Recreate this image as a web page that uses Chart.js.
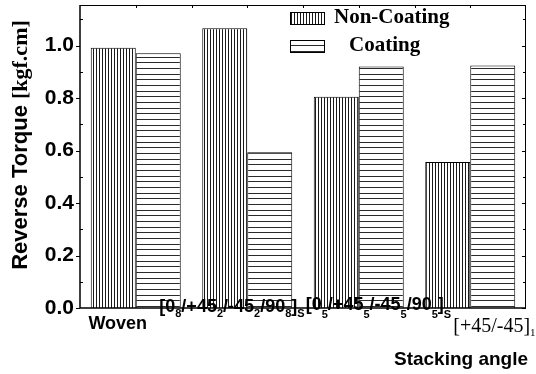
<!DOCTYPE html>
<html><head><meta charset="utf-8">
<script src="https://cdn.jsdelivr.net/npm/chart.js@4.4.1/dist/chart.umd.min.js"></script>
<style>html,body{margin:0;padding:0;background:#fff;}#wrap{width:536px;height:374px;}</style>
</head><body><div id="wrap"><canvas id="c" width="536" height="374"></canvas></div>
<script>
// ---- data ----
const categories = ['Woven', '[0_8/+45_2/-45_2/90_8]_S', '[0_5/+45_5/-45_5/90_5]_S', '[+45/-45]_15'];
const seriesNames = ['Non-Coating', 'Coating'];
const nonCoating = [0.992, 1.066, 0.805, 0.557];
const coating = [0.971, 0.594, 0.921, 0.924];
const yMajorTicks = [0.0, 0.2, 0.4, 0.6, 0.8, 1.0];
const yMinorTicks = [0.1, 0.3, 0.5, 0.7, 0.9, 1.1];
const yMax = 1.155;
const xTitle = 'Stacking angle';
const yTitleParts = ['Reverse Torque ', '[kgf.cm]'];

// ---- styles ----
const SANS = 'Liberation Sans, Arial, sans-serif';
const SERIF = 'Liberation Serif, Times New Roman, serif';
const labelStyles = [
  {dx: -18, y: 329, align: 'center', font: 'bold 18px ' + SANS, sub: 'bold 11px ' + SANS, sdy: 5},
  {dx: -88, y: 312, align: 'left', font: 'bold 18px ' + SANS, sub: 'bold 11px ' + SANS, sdy: 5},
  {dx: -53, y: 310, align: 'left', font: 'bold 18px ' + SANS, sub: 'bold 11px ' + SANS, sdy: 8},
  {dx: -17, y: 332, align: 'left', font: '20px ' + SERIF, sub: '11px ' + SERIF, sdy: 4}
];

function makePattern(vertical) {
  const pc = document.createElement('canvas');
  const ctx = pc.getContext('2d');
  if (vertical) {
    pc.width = 3; pc.height = 4;
    ctx.fillStyle = '#fff'; ctx.fillRect(0, 0, 3, 4);
    ctx.fillStyle = '#1a1a1a'; ctx.fillRect(0, 0, 1, 4);
  } else {
    pc.width = 4; pc.height = 17;
    ctx.fillStyle = '#fff'; ctx.fillRect(0, 0, 4, 17);
    ctx.fillStyle = '#2a2a2a';
    [0, 6, 11].forEach(y => ctx.fillRect(0, y, 4, 1));
  }
  return document.getElementById('c').getContext('2d').createPattern(pc, 'repeat');
}
const patV = makePattern(true);
const patH = makePattern(false);

function parseLabel(s) {
  const segs = [];
  const re = /_([0-9A-Za-z]+)/g;
  let last = 0, m;
  while ((m = re.exec(s))) {
    if (m.index > last) segs.push({t: s.slice(last, m.index), sub: false});
    segs.push({t: m[1], sub: true});
    last = re.lastIndex;
  }
  if (last < s.length) segs.push({t: s.slice(last), sub: false});
  return segs;
}

const deco = {
  id: 'deco',
  afterDraw(chart) {
    const ctx = chart.ctx;
    const a = chart.chartArea;
    const xs = chart.scales.x, ys = chart.scales.y;
    ctx.save();
    // frame
    ctx.strokeStyle = '#000';
    ctx.lineWidth = 1;
    ctx.beginPath();
    ctx.moveTo(a.left, a.top + 0.5); ctx.lineTo(a.right, a.top + 0.5);
    ctx.moveTo(a.right - 0.5, a.top); ctx.lineTo(a.right - 0.5, a.bottom);
    ctx.stroke();
    ctx.lineWidth = 1.5;
    ctx.beginPath();
    ctx.moveTo(a.left, a.top); ctx.lineTo(a.left, a.bottom);
    ctx.lineTo(a.right, a.bottom);
    ctx.stroke();
    // ticks
    ctx.lineWidth = 1;
    ctx.beginPath();
    yMajorTicks.forEach(v => {
      const y = Math.round(ys.getPixelForValue(v)) + 0.5;
      ctx.moveTo(a.left - 4, y); ctx.lineTo(a.left, y);
      ctx.moveTo(a.right - 4, y); ctx.lineTo(a.right, y);
    });
    yMinorTicks.forEach(v => {
      const y = Math.round(ys.getPixelForValue(v)) + 0.5;
      ctx.moveTo(a.left, y); ctx.lineTo(a.left + 3, y);
      ctx.moveTo(a.right - 3, y); ctx.lineTo(a.right, y);
    });
    for (let i = 0; i < categories.length; i++) {
      [i, i + 0.5].forEach(v => {
        if (v > categories.length - 1) return;
        const x = Math.round(xs.getPixelForValue(v)) + 0.5;
        ctx.moveTo(x, a.top); ctx.lineTo(x, a.top + 3);
      });
    }
    ctx.stroke();
    // x category labels
    ctx.fillStyle = '#000';
    ctx.textBaseline = 'alphabetic';
    categories.forEach((lab, i) => {
      const st = labelStyles[i];
      const segs = parseLabel(lab);
      let w = 0;
      segs.forEach(s => { ctx.font = s.sub ? st.sub : st.font; s.w = ctx.measureText(s.t).width; w += s.w; });
      let x = xs.getPixelForValue(i) + st.dx;
      if (st.align === 'center') x -= w / 2;
      ctx.textAlign = 'left';
      segs.forEach(s => {
        ctx.font = s.sub ? st.sub : st.font;
        ctx.fillText(s.t, x, st.y + (s.sub ? st.sdy : 0));
        x += s.w;
      });
    });
    // x title
    ctx.font = 'bold 19px ' + SANS;
    ctx.textAlign = 'center';
    ctx.fillText(xTitle, 461, 365);
    // y title (rotated, mixed fonts)
    ctx.save();
    ctx.translate(27, 145);
    ctx.rotate(-Math.PI / 2);
    const fonts = ['bold 22px ' + SANS, 'bold 22px ' + SERIF];
    let tw = 0; const ws = [];
    yTitleParts.forEach((p, k) => { ctx.font = fonts[k]; ws[k] = ctx.measureText(p).width; tw += ws[k]; });
    let tx = -tw / 2;
    ctx.textAlign = 'left';
    yTitleParts.forEach((p, k) => { ctx.font = fonts[k]; ctx.fillText(p, tx, 0); tx += ws[k]; });
    ctx.restore();
    // legend
    const legY = [18, 46];
    const legTextX = [334, 349];
    chart.data.datasets.forEach((ds, k) => {
      const y = legY[k];
      ctx.fillStyle = ds.backgroundColor;
      ctx.fillRect(290, y - 6, 34, 12);
      ctx.strokeStyle = '#000'; ctx.lineWidth = 1;
      ctx.strokeRect(290.5, y - 5.5, 34, 12);
      ctx.fillStyle = '#000';
      ctx.font = 'bold 21px ' + SERIF;
      ctx.textAlign = 'left';
      ctx.textBaseline = 'middle';
      ctx.fillText(ds.label, legTextX[k], y);
    });
    ctx.restore();
  }
};

new Chart(document.getElementById('c'), {
  type: 'bar',
  data: {
    labels: categories,
    datasets: [
      {label: seriesNames[0], data: nonCoating, backgroundColor: patV, borderColor: '#000', borderWidth: 1, borderSkipped: 'bottom'},
      {label: seriesNames[1], data: coating, backgroundColor: patH, borderColor: '#000', borderWidth: 1, borderSkipped: 'bottom'}
    ]
  },
  options: {
    responsive: false,
    animation: false,
    events: [],
    layout: {padding: {top: 5, right: 10, left: 0, bottom: 0}},
    plugins: {legend: {display: false}, tooltip: {enabled: false}},
    datasets: {bar: {barPercentage: 1.0, categoryPercentage: 0.807}},
    scales: {
      x: {
        type: 'category',
        offset: true,
        grid: {display: false, drawTicks: false},
        border: {display: false},
        ticks: {display: false},
        afterFit(s) { s.height = 66; s.paddingLeft = 0; s.paddingRight = 0; }
      },
      y: {
        min: 0, max: yMax,
        grid: {display: false, drawTicks: false},
        border: {display: false},
        afterBuildTicks(s) { s.ticks = yMajorTicks.map(v => ({value: v})); },
        ticks: {
          color: '#000',
          padding: 6,
          font: {family: SANS, size: 21, weight: 'bold'},
          callback: v => Number(v).toFixed(1)
        },
        afterFit(s) { s.width = 80; s.paddingTop = 0; s.paddingBottom = 0; }
      }
    }
  },
  plugins: [deco]
});
</script>
</body></html>
